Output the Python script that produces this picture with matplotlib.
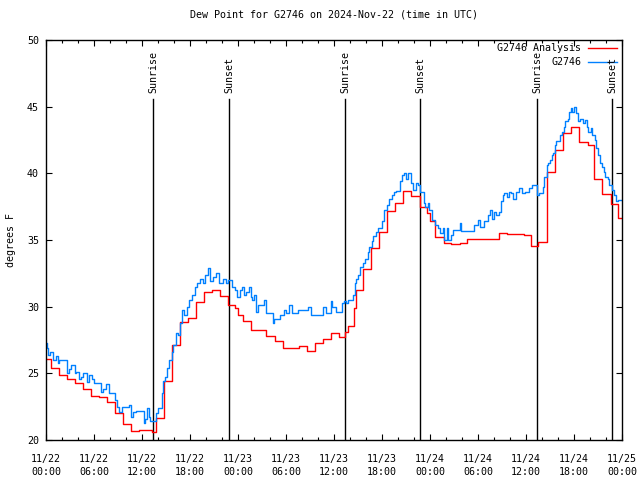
"""Dew point for G2746: hourly analysis vs. station observations, 2024-11-22..25 UTC."""
import matplotlib
matplotlib.use("Agg")
import matplotlib.pyplot as plt

# hours since 2024-11-22 00:00 UTC
red_hours = [0, 0.67, 1.67, 2.67, 3.67, 4.67, 5.67, 6.67, 7.67, 8.67, 9.67, 10.67,
             11.67, 12.67, 13.3, 13.7, 14.7, 15.7, 16.7, 17.7, 18.7, 19.7, 20.7,
             21.7, 22.7, 23.6, 24.0, 24.6, 25.6, 27.5, 28.6, 29.6, 31.6, 32.6, 33.6,
             34.6, 35.6, 36.6, 37.4, 37.75, 38.5, 38.75, 39.6, 40.6, 41.6, 42.6,
             43.6, 44.6, 45.6, 46.7, 47.6, 48.0, 48.65, 49.7, 50.6, 51.7, 52.6,
             56.6, 57.6, 59.7, 60.6, 61.5, 62.6, 63.6, 64.6, 65.6, 66.6, 67.7,
             68.5, 69.5, 70.6, 71.5, 72.0]
red_vals = [26.05, 25.37, 24.87, 24.55, 24.3, 23.8, 23.3, 23.2, 22.85, 22.0, 21.2, 20.68,
            20.75, 20.72, 20.62, 21.62, 24.4, 27.1, 28.83, 29.12, 30.33, 31.1, 31.28,
            30.78, 30.13, 29.87, 29.38, 28.93, 28.22, 27.78, 27.43, 26.88, 27.05, 26.68, 27.3,
            27.55, 28.03, 27.7, 28.1, 28.55, 29.9, 31.25, 32.8, 34.38, 35.58, 37.15,
            37.78, 38.65, 38.3, 37.5, 37.0, 36.4, 35.2, 34.78, 34.68, 34.78, 35.05,
            35.5, 35.43, 35.35, 34.55, 34.83, 40.13, 41.75, 43.0, 43.45, 42.33, 42.13,
            39.55, 38.45, 37.68, 36.63, 36.63]

obs_hours = [0, 0.12, 0.25, 0.5, 0.92, 1.2, 1.5, 1.67, 2.67, 2.88, 3.17, 3.58, 3.7,
             4.08, 4.42, 4.67, 5.08, 5.38, 5.8, 6.0, 6.9, 7.17, 7.46, 7.88, 8.58, 8.83,
             9.13, 9.54, 10.38, 10.67, 10.92, 11.2, 12.2, 12.42, 12.67, 12.83, 13.0,
             13.7, 14.04, 14.45, 14.67, 14.9, 15.1, 15.4, 15.7, 15.9, 16.25, 16.5,
             16.75, 16.96, 17.2, 17.6, 17.9, 18.2, 18.6, 18.9, 19.25, 19.67, 19.9,
             20.2, 20.5, 20.9, 21.3, 21.67, 22.1, 22.5, 22.8, 23.2, 23.6, 23.9, 24.25,
             24.5, 24.8, 25.0, 25.4, 25.6, 25.8, 26.04, 26.25, 26.5, 27.3, 27.5, 28.33,
             28.5, 29.2, 29.8, 30.0, 30.4, 30.8, 31.5, 32.7, 33.1, 34.6, 35.0, 35.6,
             35.8, 36.25, 37.0, 37.2, 37.5, 37.8, 38.4, 38.6, 38.8, 39.0, 39.3, 39.6,
             39.9, 40.2, 40.4, 40.7, 40.9, 41.25, 41.5, 41.96, 42.25, 42.6, 42.9, 43.2,
             43.5, 43.8, 44.2, 44.5, 44.75, 45.0, 45.3, 45.6, 45.9, 46.25, 46.5, 46.8,
             47.2, 47.4, 47.7, 47.9, 48.2, 48.6, 48.96, 49.25, 49.6, 49.8, 50.1, 50.3,
             50.6, 50.9, 51.7, 51.9, 53.5, 54.0, 54.25, 54.8, 55.2, 55.5, 55.75, 56.0,
             56.3, 56.65, 56.9, 57.1, 57.3, 57.6, 57.9, 58.1, 58.4, 58.75, 59.1, 59.5,
             59.9, 60.4, 60.8, 61.1, 61.4, 61.67, 62.1, 62.3, 62.6, 62.8, 63.0, 63.2,
             63.4, 63.6, 63.8, 64.2, 64.5, 64.7, 64.9, 65.2, 65.4, 65.6, 65.8, 66.0,
             66.25, 66.5, 66.8, 67.1, 67.4, 67.6, 67.8, 68.1, 68.3, 68.6, 68.8, 69.0,
             69.25, 69.5, 69.7, 69.9, 70.2, 70.4, 70.7, 71.0, 71.25, 71.5, 72.0]
obs_vals = [27.25, 26.9, 26.4, 26.6, 26.0, 26.3, 25.75, 26.0, 25.05, 25.3, 25.6, 25.05, 25.1,
            24.55, 24.75, 25.05, 24.37, 24.87, 24.55, 24.3, 23.62, 23.8, 24.2, 23.55, 23.0, 22.5,
            22.12, 22.45, 22.62, 21.7, 22.12, 22.17, 21.25, 21.55, 22.4, 21.75, 21.4,
            22.0, 22.4, 23.5, 24.4, 24.75, 25.4, 26.0, 26.6, 27.1, 28.0, 27.9,
            28.75, 29.75, 29.4, 30.0, 30.5, 30.9, 31.5, 31.75, 32.1, 31.75, 32.4,
            32.9, 31.9, 32.25, 32.5, 31.75, 32.1, 31.75, 32.0, 31.5, 31.25, 30.75, 31.25,
            31.5, 30.9, 31.1, 31.5, 30.75, 30.5, 30.9, 29.6, 30.1, 30.5, 29.5, 28.8,
            29.1, 29.4, 29.75, 29.5, 30.1, 29.5, 29.75, 30.0, 29.4, 30.0, 29.5, 30.45,
            30.0, 29.6, 30.25, 30.45, 30.25, 30.5, 30.9, 31.75, 32.1, 32.4, 33.0, 33.25,
            33.6, 34.1, 34.45, 34.9, 35.3, 35.6, 35.9, 36.4, 37.25, 37.6, 38.05, 38.4,
            38.6, 38.7, 39.4, 39.9, 40.05, 39.6, 40.0, 39.25, 38.75, 39.25, 39.1, 38.6,
            37.75, 37.5, 37.75, 37.25, 36.5, 36.1, 35.9, 35.5, 35.9, 35.0, 35.9, 35.0,
            35.4, 35.75, 36.25, 35.7, 36.1, 36.5, 36.0, 36.4, 36.9, 37.25, 36.6, 37.1,
            36.9, 37.1, 37.9, 38.4, 38.5, 38.25, 38.6, 38.5, 38.05, 38.6, 38.9, 38.5,
            38.6, 38.9, 39.1, 39.1, 38.4, 38.5, 39.0, 39.75, 40.6, 40.75, 41.0, 41.4,
            41.5, 42.1, 42.4, 42.9, 43.1, 43.5, 43.9, 44.1, 44.6, 44.9, 44.6, 45.0,
            44.5, 43.9, 44.1, 43.75, 44.0, 43.5, 43.1, 43.4, 42.9, 42.5, 41.9, 41.4,
            40.75, 40.5, 40.1, 39.75, 39.6, 39.1, 38.75, 38.4, 37.9, 38.0, 38.0]

sun_hours = [13.42, 22.92, 37.42, 46.79, 61.42, 70.79]
sun_labels = ["Sunrise", "Sunset", "Sunrise", "Sunset", "Sunrise", "Sunset"]

tick_hours = list(range(0, 73, 6))
tick_labels = ["11/22\n00:00", "11/22\n06:00", "11/22\n12:00", "11/22\n18:00",
               "11/23\n00:00", "11/23\n06:00", "11/23\n12:00", "11/23\n18:00",
               "11/24\n00:00", "11/24\n06:00", "11/24\n12:00", "11/24\n18:00",
               "11/25\n00:00"]

plt.rcParams["font.family"] = ["DejaVu Sans Mono"]
plt.rcParams["font.size"] = 7.2

fig = plt.figure(figsize=(6.4, 4.8), dpi=100)
ax = fig.add_axes([46 / 640, 40 / 480, 576 / 640, 400 / 480])

for h, lab in zip(sun_hours, sun_labels):
    ax.plot([h, h], [20, 45.6], color="black", lw=1.0)
    ax.text(h, 46.0, lab, rotation=90, ha="center", va="bottom")

ax.plot(red_hours, red_vals, color="#ff0000", lw=1.0, drawstyle="steps-post")
ax.plot(obs_hours, obs_vals, color="#0080ff", lw=1.0, drawstyle="steps-post")

ax.set_xlim(0, 72)
ax.set_ylim(20, 50)
ax.set_xticks(tick_hours)
ax.set_xticklabels(tick_labels, linespacing=1.45)
ax.set_xticks(range(0, 73, 2), minor=True)
ax.set_yticks(range(20, 51, 5))
ax.tick_params(which="both", direction="in", top=True, right=True, width=0.8)
ax.tick_params(which="major", length=4)
ax.tick_params(which="minor", length=2)
ax.tick_params(axis="x", pad=10)
ax.tick_params(axis="y", pad=5)
for s in ax.spines.values():
    s.set_linewidth(1.0)

ax.set_ylabel("degrees F", labelpad=8)
ax.set_title("Dew Point for G2746 on 2024-Nov-22 (time in UTC)", fontsize=7.2, pad=16)

# gnuplot-style key: right-aligned text, sample line to the right
for yk, name, col in [(0.98, "G2746 Analysis", "#ff0000"), (0.945, "G2746", "#0080ff")]:
    ax.text(0.929, yk, name, transform=ax.transAxes, ha="right", va="center")
    ax.plot([0.941, 0.991], [yk, yk], color=col, lw=1.0, transform=ax.transAxes,
            clip_on=False)

fig.savefig("out.png", dpi=100)
